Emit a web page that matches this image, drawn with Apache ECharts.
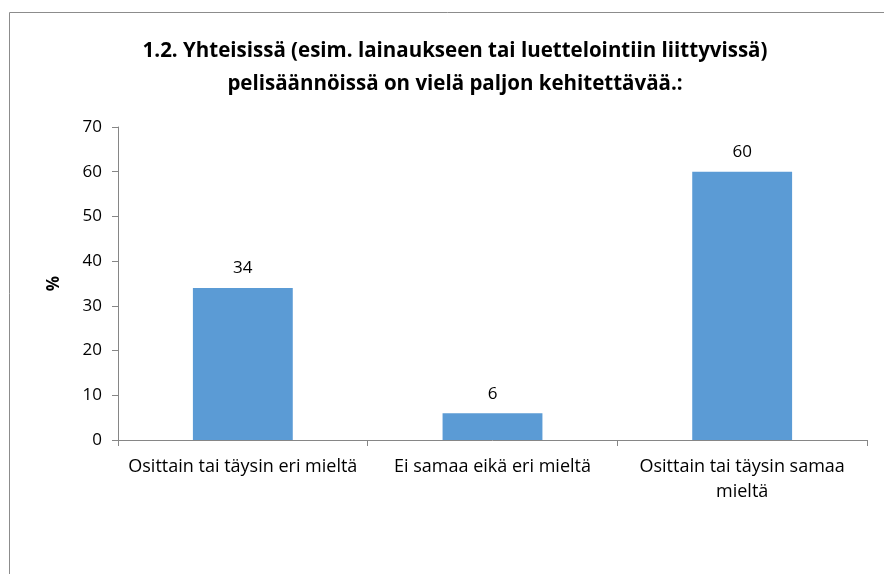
<!DOCTYPE html>
<html>
<head>
<meta charset="utf-8">
<script src="https://cdn.jsdelivr.net/npm/echarts@6/dist/echarts.min.js"></script>
<style>
  html, body { margin: 0; padding: 0; background: #fff; }
  #chart { width: 884px; height: 574px; }
</style>
</head>
<body>
<div id="chart"></div>
<script>
const categories = ['Osittain tai täysin eri mieltä', 'Ei samaa eikä eri mieltä', 'Osittain tai täysin samaa\nmieltä']
const values = [34, 6, 60]
const yTicks = { min: 0, max: 70, interval: 10 }

const chart = echarts.init(document.getElementById('chart'))
const font = 'Open Sans, Noto Sans, sans-serif'
const axisColor = '#868686'

chart.setOption({
    animation: false,
    // chart frame (runs off the bottom/right of the picture)
    graphic: [{
        type: 'rect',
        shape: { x: 9.5, y: 12.5, width: 900, height: 600 },
        style: { fill: 'none', stroke: '#8c8c8c', lineWidth: 1 },
        silent: true
    }],
    title: {
        text: '1.2. Yhteisissä (esim. lainaukseen tai luettelointiin liittyvissä)\npelisäännöissä on vielä paljon kehitettävää.:',
        left: 450,
        textAlign: 'center',
        top: 30,
        textStyle: {
            fontFamily: font,
            fontWeight: 'bold',
            fontSize: 20.5,
            lineHeight: 33,
            color: '#000'
        }
    },
    grid: { left: 118, right: 17, top: 127, bottom: 134 },
    xAxis: {
        type: 'category',
        data: categories,
        axisLine: { lineStyle: { color: axisColor } },
        axisTick: { show: true, length: 6, lineStyle: { color: axisColor } },
        axisLabel: {
            interval: 0,
            color: '#000',
            fontFamily: font,
            fontSize: 18,
            lineHeight: 25,
            margin: 14
        }
    },
    yAxis: {
        type: 'value',
        min: yTicks.min,
        max: yTicks.max,
        interval: yTicks.interval,
        name: '%',
        nameLocation: 'middle',
        nameGap: 55,
        nameRotate: 90,
        nameTextStyle: { color: '#000', fontFamily: font, fontSize: 17, fontWeight: 'bold' },
        axisLine: { show: true, lineStyle: { color: axisColor } },
        axisTick: { show: true, length: 6, lineStyle: { color: axisColor } },
        splitLine: { show: false },
        axisLabel: { color: '#000', fontFamily: font, fontSize: 17, margin: 16 }
    },
    series: [{
        type: 'bar',
        data: values,
        barWidth: '40%',
        itemStyle: { color: '#5B9BD5' },
        label: {
            show: true,
            position: 'top',
            distance: 11,
            color: '#000',
            fontFamily: font,
            fontSize: 17
        }
    }]
})
</script>
</body>
</html>
